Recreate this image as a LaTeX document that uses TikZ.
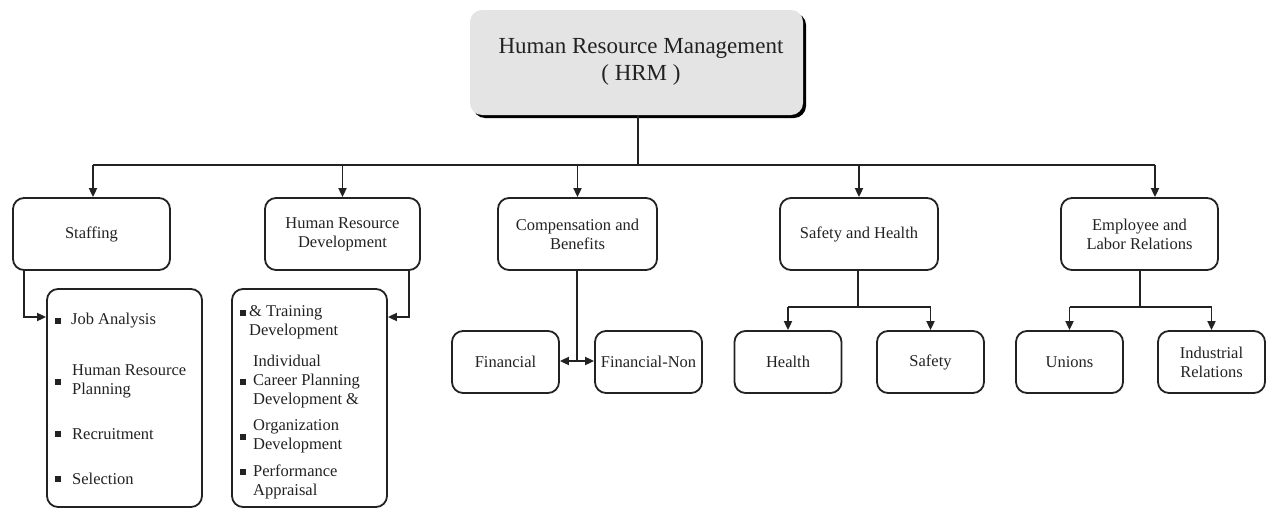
\documentclass[tikz,border=0pt]{standalone}
\usepackage{fontspec}
\setmainfont{Liberation Serif}
\newfontfamily\tnr{Liberation Serif}
\usetikzlibrary{arrows.meta,positioning}
\definecolor{ink}{HTML}{222222}
\definecolor{topfill}{HTML}{E4E4E4}
\tikzset{
  box/.style={draw=ink, line width=1.8pt, rounded corners=11pt, text=ink, inner sep=0pt, align=center, font=\tnr\fontsize{16.5}{19}\selectfont},
  itemtext/.style={anchor=west, inner sep=0pt, align=left, text=ink, font=\tnr\fontsize{16.5}{19}\selectfont},
  bul/.style={fill=ink, inner sep=0pt, minimum width=6pt, minimum height=6pt},
  conn/.style={draw=ink, line width=1.8pt},
  arr/.style={conn, -{Triangle[length=9pt,width=8pt]}},
  darr/.style={conn, {Triangle[length=9pt,width=8pt]}-{Triangle[length=9pt,width=8pt]}},
}
\begin{document}
\begin{tikzpicture}[x=1pt,y=-1pt]
\useasboundingbox (0,0) rectangle (1272,509);
% top box with shadow
\fill[black, rounded corners=12pt] (473,13) rectangle (806,118);
\node[fill=topfill, rounded corners=12pt, minimum width=333pt, minimum height=105pt, inner sep=0pt] (top) at (636.5,62.5) {};
\node[text=ink, align=center, inner sep=0pt, font=\tnr\fontsize{23}{27}\selectfont] (toptext) at (641,62) {Human Resource Management\\( HRM )};
% level 1
\node[box, minimum width=157pt, minimum height=72pt] (staff) at (91.5,234) {Staffing};
\node[box, minimum width=155pt, minimum height=72pt] (hrd) at (342.5,234) {Human Resource\\Development};
\node[box, minimum width=159pt, minimum height=72pt] (comp) at (577.5,234) {Compensation and\\Benefits};
\node[box, minimum width=158pt, minimum height=72pt] (sh) at (859,234) {Safety and Health};
\node[box, minimum width=157pt, minimum height=72pt] (elr) at (1139.5,234) {Employee and\\Labor Relations};
% leaves
\node[box, minimum width=107pt, minimum height=62pt] (fin) at (505.5,362) {Financial};
\node[box, minimum width=107pt, minimum height=62pt] (fnon) at (648.5,362) {Financial-Non};
\node[box, minimum width=107pt, minimum height=62pt] (health) at (788,362) {Health};
\node[box, minimum width=107pt, minimum height=62pt] (safety) at (930.5,362) {Safety};
\node[box, minimum width=107pt, minimum height=62pt] (unions) at (1069.5,362) {Unions};
\node[box, minimum width=107pt, minimum height=62pt] (indrel) at (1211.5,362) {Industrial\\Relations};
% list boxes
\node[box, minimum width=155pt, minimum height=218pt] (slist) at (124.5,398) {};
\node[box, minimum width=155pt, minimum height=218pt] (hlist) at (309.5,398) {};
% staffing items
\node[bul] (sb1) at (58,321) {};
\node[itemtext] (si1) at (71,321) {Job Analysis};
\node[bul] (sb2) at (58,382) {};
\node[itemtext] (si2) at (72,381) {Human Resource\\Planning};
\node[bul] (sb3) at (58,434) {};
\node[itemtext] (si3) at (72,434) {Recruitment};
\node[bul] (sb4) at (58,479) {};
\node[itemtext] (si4) at (72,479) {Selection};
% hrd items
\node[bul] (hb1) at (243,313) {};
\node[itemtext] (hi1) at (249,322.5) {\& Training\\Development};
\node[bul] (hb2) at (243,382) {};
\node[itemtext] (hi2) at (253,382) {Individual\\Career Planning\\Development \&};
\node[bul] (hb3) at (243,437) {};
\node[itemtext] (hi3) at (253,436.5) {Organization\\Development};
\node[bul] (hb4) at (243,472) {};
\node[itemtext] (hi4) at (253,481.5) {Performance\\Appraisal};
% connectors from top
\coordinate (j0) at (638,165);
\coordinate (jl) at (93,165);
\coordinate (jr) at (1155,165);
\draw[conn] (top.south -| j0) -- (j0);
\draw[conn] (jl) -- (jr);
\draw[arr] (jl) -- (jl |- staff.north);
\draw[arr] (j0 -| hrd.north) -- (hrd.north);
\draw[arr] (j0 -| comp.north) -- (comp.north);
\draw[arr] (j0 -| sh.north) -- (sh.north);
\draw[arr] (jr) -- (jr |- elr.north);
% staffing -> list
\coordinate (sa) at (24,317);
\draw[arr] (sa |- staff.south) -- (sa) -- (sa -| slist.west);
% hrd -> list
\coordinate (ha) at (409,317);
\draw[arr] (ha |- hrd.south) -- (ha) -- (ha -| hlist.east);
% comp
\coordinate (cm) at (577,361);
\draw[conn] (cm |- comp.south) -- (cm);
\draw[darr] (cm -| fin.east) -- (cm -| fnon.west);
% safety and health
\coordinate (shj) at (858,307);
\draw[conn] (shj |- sh.south) -- (shj);
\draw[conn] (shj -| health.north) -- (shj -| safety.north);
\draw[arr] (shj -| health.north) -- (health.north);
\draw[arr] (shj -| safety.north) -- (safety.north);
% employee
\coordinate (ej) at (1140,307);
\draw[conn] (ej |- elr.south) -- (ej);
\draw[conn] (ej -| unions.north) -- (ej -| indrel.north);
\draw[arr] (ej -| unions.north) -- (unions.north);
\draw[arr] (ej -| indrel.north) -- (indrel.north);
\end{tikzpicture}
\end{document}
